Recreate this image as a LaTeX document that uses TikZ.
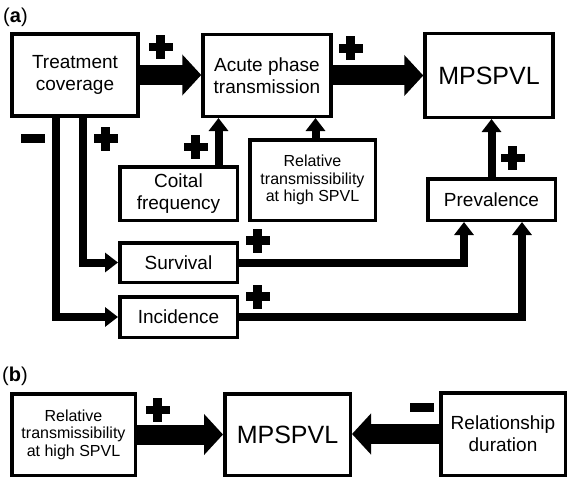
\documentclass[tikz,border=0pt]{standalone}
\usepackage{fontspec}
\setmainfont{Liberation Sans}
\usetikzlibrary{arrows.meta}

\begin{document}
\begin{tikzpicture}
  [
    x=1pt, y=-1pt,
    box type 1/.style={draw, line width=3.5pt, align=center, inner sep=2pt, font=\fontsize{19}{22}\selectfont},
    box type 2/.style={box type 1, font=\fontsize{16}{17.5}\selectfont},
    box type 3/.style={box type 1, font=\fontsize{25}{30}\selectfont},
    big link/.style={line width=20pt, -{Triangle[length=19pt,width=40pt]}},
    link/.style={line width=8pt, -{Triangle[length=13pt,width=19pt]}},
    plus sign/.pic={\fill (-12,-4.25) rectangle (12,4.25); \fill (-4.25,-12) rectangle (4.25,12);},
    minus sign/.pic={\fill (-12,-4.5) rectangle (12,4.5);},
  ]

  \useasboundingbox (0,0) rectangle (572,484);

  % (a)
  \node[font=\fontsize{20}{24}\selectfont] (lbla) at (15.5,17) {(\textbf{a})};
  \node[box type 1, minimum width=126pt, minimum height=82pt] (trt) at (75,75) {Treatment\\coverage};
  \node[box type 1, minimum width=128pt, minimum height=81.5pt] (acute) at (267,75.5) {Acute phase\\transmission};
  \node[box type 3, minimum width=128pt, minimum height=83.5pt] (mps) at (489,75.5) {MPSPVL};
  \node[box type 1, minimum width=117.5pt, minimum height=53.5pt] (coital) at (178.5,193.5) {Coital\\frequency};
  \node[box type 2, minimum width=125.5pt, minimum height=80.5pt] (relA) at (312.5,180) {Relative\\transmissibility\\at high SPVL};
  \node[box type 1, minimum width=127.5pt, minimum height=41.5pt] (prev) at (491.5,199.5) {Prevalence};
  \node[box type 1, minimum width=117.5pt, minimum height=39.5pt] (surv) at (178.5,262.5) {Survival};
  \node[box type 1, minimum width=117.5pt, minimum height=40.5pt] (inc) at (178.5,317) {Incidence};

  \draw[big link] (trt.east) -- (trt.east -| acute.west);
  \draw[big link] (acute.east) -- (acute.east -| mps.west);
  \draw[link] ([xshift=-19pt]trt.south) |- (inc.west);
  \draw[link] ([xshift=8pt]trt.south) |- (surv.west);
  \draw[link] ([xshift=40pt]coital.north) -- ([xshift=40pt]coital.north |- acute.south);
  \draw[link] ([xshift=3pt]relA.north) -- ([xshift=3pt]relA.north |- acute.south);
  \draw[link] (surv.east) -| ([xshift=-27.5pt]prev.south);
  \draw[link] (inc.east) -| ([xshift=30.5pt]prev.south);
  \draw[link] (prev.north) -- (prev.north |- mps.south);

  % (b)
  \node[font=\fontsize{20}{24}\selectfont] (lblb) at (15,376) {(\textbf{b})};
  \node[box type 2, minimum width=123.5pt, minimum height=81.5pt] (relB) at (73.5,434.5) {Relative\\transmissibility\\at high SPVL};
  \node[box type 3, minimum width=125.5pt, minimum height=81.5pt] (mpsB) at (287.5,434.5) {MPSPVL};
  \node[box type 1, minimum width=124.5pt, minimum height=82.5pt] (dur) at (503,434) {Relationship\\duration};

  \draw[big link] (relB.east) -- (relB.east -| mpsB.west);
  \draw[big link] (dur.west) -- (dur.west -| mpsB.east);

  \foreach \x/\y in {160.5/47, 350.5/48.5, 105.5/138.5, 195.5/147, 257.5/240.5, 257.5/296.5, 512.5/158, 157.5/410}
    \pic at (\x,\y) {plus sign};
  \foreach \x/\y in {33/138, 421.5/407.5}
    \pic at (\x,\y) {minus sign};

  %\draw[help lines] (0,0) grid[step=20] (572,484);
\end{tikzpicture}
\end{document}
